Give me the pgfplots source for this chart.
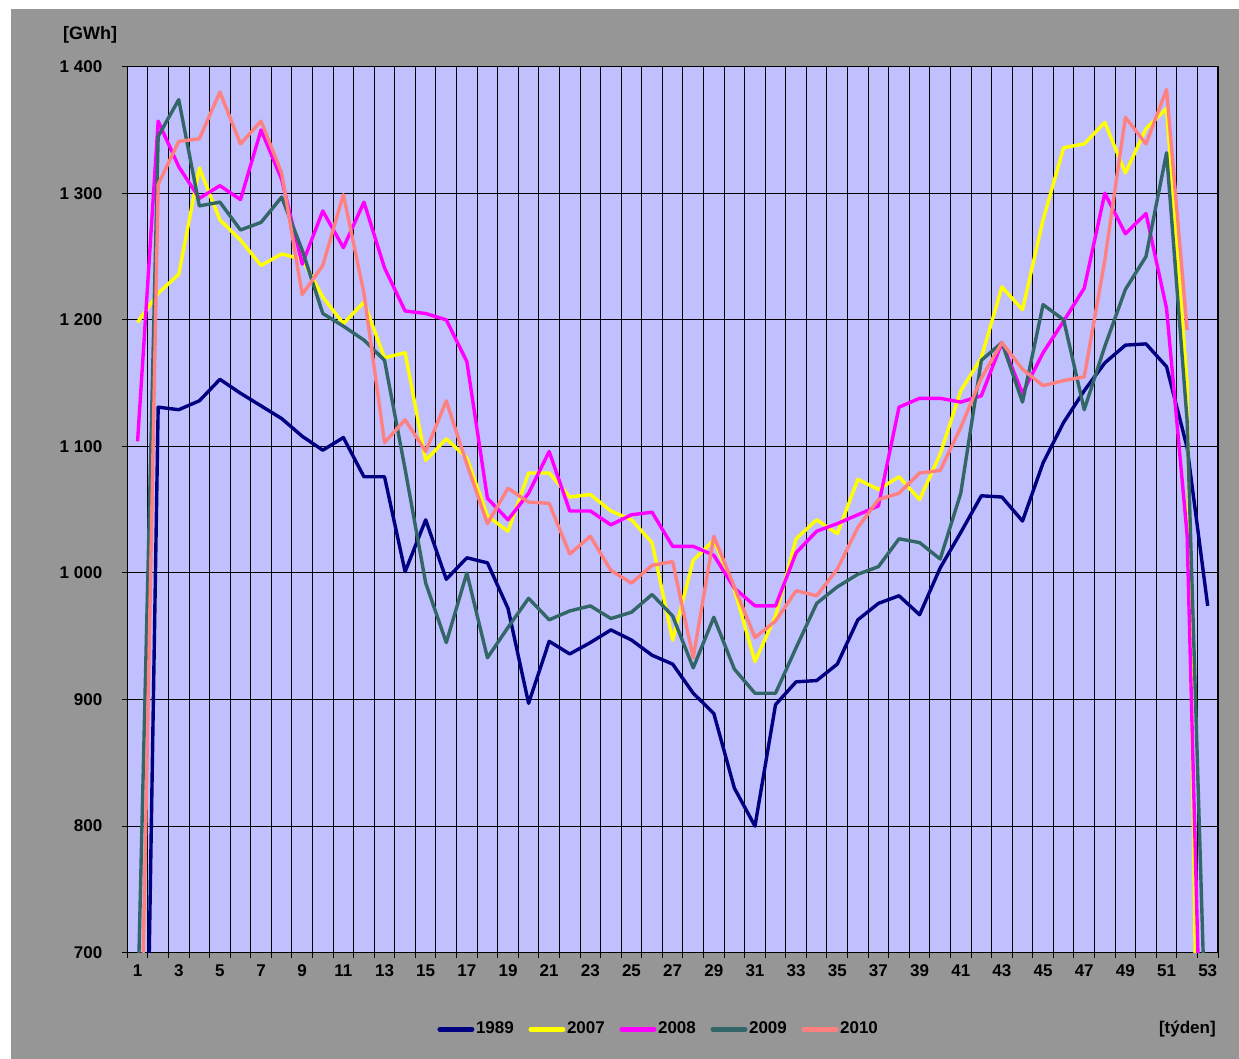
\documentclass[border=0pt]{standalone}
\usepackage{fontspec}
\setmainfont{Liberation Sans}
\usepackage{graphicx}
\usepackage{pgfplots}
\usepackage{pgfplotstable}
\pgfplotsset{compat=1.18}

\definecolor{bggray}{RGB}{150,150,150}
\definecolor{plotbg}{RGB}{192,192,255}
\definecolor{c1989}{RGB}{0,0,128}
\definecolor{c2007}{RGB}{255,255,0}
\definecolor{c2008}{RGB}{255,0,255}
\definecolor{c2009}{RGB}{51,102,102}
\definecolor{c2010}{RGB}{255,128,128}

% weekly consumption, GWh (week 53 / week 1 partial weeks)
\pgfplotstableread{
w    y1989 y2007 y2008 y2009 y2010
1    135   1198  1104  653   468
2    1131  1221  1357  1345  1307
3    1129  1236  1321  1374  1341
4    1136  1320  1296  1290  1343
5    1153  1279  1306  1293  1380
6    1142  1263  1295  1271  1339
7    1132  1243  1350  1277  1357
8    1122  1252  1311  1297  1316
9    1108  1248  1244  1255  1220
10   1097  1218  1286  1205  1243
11   1107  1197  1257  1195  1299
12   1076  1214  1293  1184  1221
13   1076  1170  1241  1168  1103
14   1001  1174  1207  1082  1121
15   1042  1089  1205  992   1096
16   995   1106  1200  945   1136
17   1012  1091  1167  1000  1086
18   1008  1045  1059  933   1039
19   972   1033  1042  957   1067
20   897   1079  1063  980   1056
21   946   1079  1096  963   1055
22   936   1060  1049  970   1015
23   945   1062  1049  974   1029
24   955   1049  1038  964   1002
25   947   1042  1046  969   992
26   935   1024  1048  983   1006
27   928   947   1021  966   1009
28   905   1010  1021  925   933
29   889   1026  1014  965   1029
30   830   987   988   924   989
31   800   930   974   905   949
32   896   966   974   905   962
33   914   1027  1016  941   986
34   915   1042  1033  976   982
35   928   1031  1039  989   1003
36   963   1074  1046  999   1036
37   976   1066  1053  1005  1058
38   982   1076  1131  1027  1063
39   967   1058  1138  1024  1079
40   1004  1094  1138  1011  1081
41   1032  1144  1135  1063  1115
42   1061  1170  1140  1168  1154
43   1060  1226  1182  1182  1182
44   1041  1208  1142  1135  1161
45   1087  1279  1174  1212  1148
46   1119  1336  1199  1200  1152
47   1144  1339  1225  1129  1155
48   1166  1356  1300  1179  1247
49   1180  1316  1268  1224  1360
50   1181  1351  1284  1250  1339
51   1163  1367  1209  1332  1382
52   1099  1150  1030  1120  1192
53   974   0     400   580   nan
}\weeks

\begin{document}
\begin{tikzpicture}
\fontsize{8.5}{10}\selectfont\bfseries
\fill[white] (0,0) rectangle (619.5pt,529.5pt);
\fill[bggray] (5.5pt,0) rectangle (619.5pt,525pt);
\node[font=\fontsize{9}{10}\selectfont\bfseries] at (45pt,512pt) {[GWh]};
\node at (593.7pt,14.85pt) {[týden]};
\begin{axis}[
    at={(63.65pt,53.15pt)}, anchor=south west,
    scale only axis,
    width=545.35pt, height=443pt,
    xmin=0.5, xmax=53.5,
    ymin=700, ymax=1400,
    axis background/.style={fill=plotbg},
    axis line style={black, line width=0.6pt},
    tick align=outside,
    xtick pos=bottom, ytick pos=left,
    major tick length=2.5pt,
    tick style={black, line width=0.5pt},
    xtick={0.5,1.5,...,53.5},
    xticklabels={},
    extra x ticks={1,3,...,53},
    extra x tick style={grid=none, major tick length=0pt},
    ytick={700,800,...,1400},
    yticklabels={700,800,900,1 000,1 100,1 200,1 300,1 400},
    xmajorgrids, ymajorgrids,
    major grid style={black, line width=0.5pt},
    /pgf/number format/assume math mode=true,
    ticklabel style={font=\fontsize{8.5}{10}\selectfont\bfseries},
    yticklabel style={xshift=-7pt},
    xticklabel style={yshift=-3pt},
    legend columns=5,
    legend style={at={(0.487,-0.0865)}, anchor=center, draw=none, fill=none,
        font=\fontsize{8.5}{10}\selectfont\bfseries,
        nodes={inner sep=0.8pt},
        /tikz/every even column/.append style={column sep=6.5pt},
        inner sep=0pt},
    legend image code/.code={\draw[#1, line width=2.5pt, line cap=round] (0pt,0pt) -- (16pt,0pt);},
    every axis plot/.append style={line width=1.7pt, line join=round},
]
\addplot[c1989] table[x=w, y=y1989] {\weeks};
\addplot[c2007] table[x=w, y=y2007] {\weeks};
\addplot[c2008] table[x=w, y=y2008] {\weeks};
\addplot[c2009] table[x=w, y=y2009] {\weeks};
\addplot[c2010] table[x=w, y=y2010] {\weeks};
\legend{1989,2007,2008,2009,2010}
\end{axis}
\end{tikzpicture}
\end{document}
